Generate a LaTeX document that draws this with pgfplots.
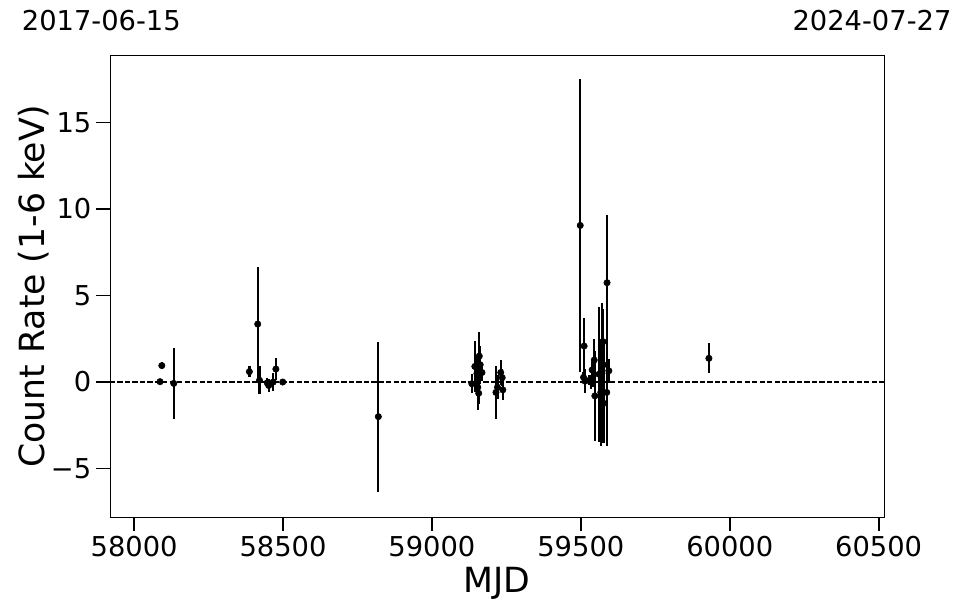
\documentclass[border=0pt]{standalone}
\usepackage{fontspec}
\setmainfont{DejaVu Sans}
\usepackage{pgfplots}
\usepackage{pgfplotstable}
\pgfplotsset{compat=1.18}

\pgfplotstableread{
mjd y err
58087 0.02 0.10
58093 0.95 0.20
58133 -0.08 2.03
58387 0.60 0.30
58415 3.35 3.30
58421 0.10 0.80
58447 -0.05 0.30
58452 -0.20 0.40
58467 0.00 0.50
58476 0.75 0.65
58499 0.00 0.15
58820 -2.00 4.33
59134 -0.10 0.55
59144 0.90 1.50
59151 0.50 1.00
59154 -0.30 1.30
59159 1.50 1.40
59162 1.00 1.10
59168 0.55 0.50
59157 -0.65 0.60
59215 -0.60 1.55
59220 -0.30 0.70
59231 0.55 0.75
59236 0.25 0.50
59238 -0.45 0.60
59498 9.05 8.45
59511 2.08 1.60
59509 0.27 0.30
59514 0.05 0.70
59528 0.10 0.30
59533 0.00 0.40
59538 0.70 0.50
59541 0.00 0.30
59545 1.27 1.20
59547 -0.80 2.60
59561 0.45 3.90
59567 -0.60 3.10
59571 0.50 4.05
59575 2.33 1.90
59576 1.00 1.50
59577 -1.23 2.30
59588 5.74 3.90
59587 -0.60 3.10
59594 0.65 0.70
59930 1.37 0.87
}\datatable

\begin{document}
\begin{tikzpicture}
\begin{axis}[
  scale only axis,
  width=580.5pt, height=346.5pt,
  xmin=57919, xmax=60518,
  ymin=-7.8, ymax=18.9,
  scaled x ticks=false, scaled y ticks=false,
  xtick={58000,58500,59000,59500,60000,60500},
  xticklabels={58000,58500,59000,59500,60000,60500},
  ytick={-5,0,5,10,15},
  yticklabels={−5,0,5,10,15},
  tick align=outside,
  xtick pos=bottom, ytick pos=left,
  major tick length=10.5pt,
  tick style={black, line width=1.3pt},
  axis line style={line width=0.6pt},
  ticklabel style={font=\fontsize{20.5}{24}\selectfont},
  clip=false,
]
\addplot[black, line width=1.1pt, dash pattern=on 3.9pt off 1.7pt, forget plot] coordinates {(57919,0) (60518,0)};
\addplot[only marks, black, mark=*, mark size=2.4pt,
  error bars/.cd, y dir=both, y explicit,
  error mark=none, error bar style={line width=1.7pt, black}]
  table[x=mjd, y=y, y error=err] {\datatable};
\node[font=\fontsize{26}{30}\selectfont, anchor=center] at ([yshift=-49.5pt]axis description cs:0.5,0) {MJD};
\node[font=\fontsize{26}{30}\selectfont, anchor=center, rotate=90] at ([xshift=-57pt]axis description cs:0,0.5) {Count Rate (1-6 keV)};
\node[font=\fontsize{20.5}{24}\selectfont, anchor=center] at ([xshift=-6.5pt, yshift=25.5pt]axis description cs:0,1) {2017-06-15};
\node[font=\fontsize{20.5}{24}\selectfont, anchor=center] at ([xshift=-9pt, yshift=25.5pt]axis description cs:1,1) {2024-07-27};
\end{axis}
\pgfresetboundingbox
\path ([xshift=-82.5pt,yshift=-72pt]current axis.south west) rectangle ([xshift=58.5pt,yshift=41.25pt]current axis.north east);
\end{tikzpicture}
\end{document}
